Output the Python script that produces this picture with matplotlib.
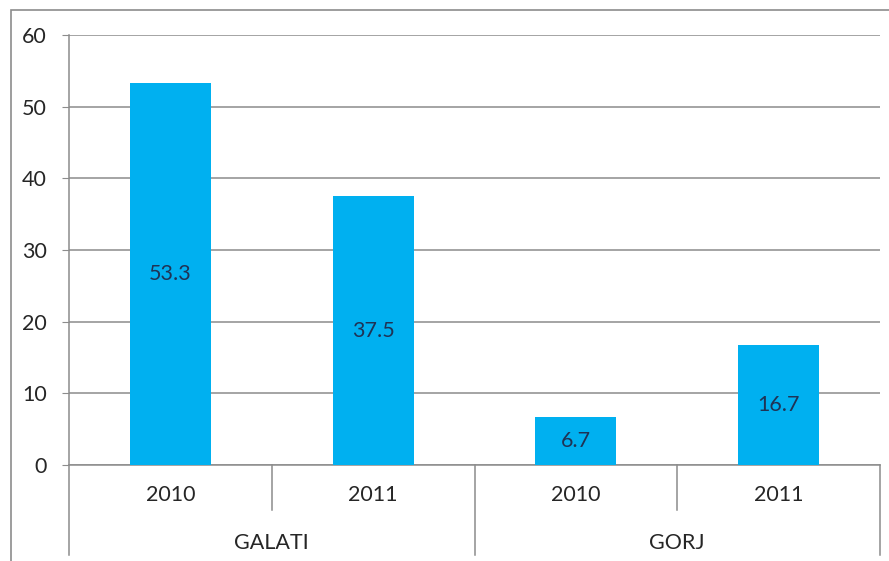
import matplotlib
matplotlib.use("Agg")
import matplotlib.pyplot as plt
from matplotlib.patches import Rectangle
import matplotlib.transforms as mtransforms

# data
groups = ["GALATI", "GORJ"]
years = ["2010", "2011", "2010", "2011"]
values = [53.3, 37.5, 6.7, 16.7]
y_ticks = [0, 10, 20, 30, 40, 50, 60]

BAR_COLOR = "#00B0F0"
LINE_COLOR = "#8c8c8c"
TEXT_COLOR = "#262626"
FS = 15.5

plt.rcParams["font.family"] = ["Lato", "DejaVu Sans"]

fig = plt.figure(figsize=(8.89, 5.61), dpi=100)
fig.patches.append(Rectangle((11 / 889, -0.1), 1.2, 1 - 10 / 561 + 0.1,
                             transform=fig.transFigure, fill=False,
                             edgecolor=LINE_COLOR, linewidth=1.2))

ax = fig.add_axes([69 / 889, 1 - 465 / 561, (880 - 69) / 889, (465 - 35) / 561])

x = [i + 0.5 for i in range(len(values))]
ax.bar(x, values, width=0.4, color=BAR_COLOR, zorder=3)
for xi, v in zip(x, values):
    ax.text(xi, v / 2, f"{v:.1f}", ha="center", va="center",
            fontsize=FS, color="#1f3355", zorder=4)

ax.set_xlim(0, len(values))
ax.set_ylim(0, 60)
ax.set_yticks(y_ticks)
ax.set_yticklabels([str(t) for t in y_ticks], fontsize=FS, color=TEXT_COLOR)
ax.set_xticks([])
ax.tick_params(axis="y", length=5, color=LINE_COLOR, pad=11)
ax.yaxis.grid(True, color=LINE_COLOR, linewidth=1.1, zorder=0)

for side in ["top", "right"]:
    ax.spines[side].set_visible(False)
for side in ["left", "bottom"]:
    ax.spines[side].set_color(LINE_COLOR)
    ax.spines[side].set_linewidth(1.1)

# category separators below the axis (two-level labels)
trans = mtransforms.blended_transform_factory(ax.transData, ax.transAxes)
for xs in range(len(values) + 1):
    low = -0.209 if xs % 2 == 0 else -0.105
    ax.plot([xs, xs], [0, low], transform=trans, color=LINE_COLOR,
            linewidth=1.1, clip_on=False)

for xi, yr in zip(x, years):
    ax.text(xi, -0.07, yr, transform=trans, ha="center", va="center",
            fontsize=FS, color=TEXT_COLOR)
for gi, g in enumerate(groups):
    ax.text(gi * 2 + 1, -0.181, g, transform=trans, ha="center", va="center",
            fontsize=FS, color=TEXT_COLOR)

fig.savefig("out.png", dpi=100)
